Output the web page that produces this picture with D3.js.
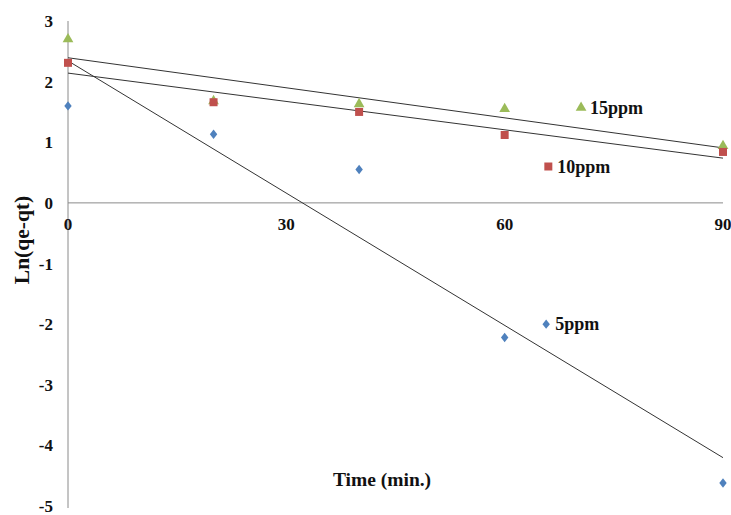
<!DOCTYPE html>
<html><head><meta charset="utf-8">
<script src="https://cdn.jsdelivr.net/npm/d3@7"></script>
<style>body{margin:0;background:#fff}svg{display:block}</style>
</head><body><svg id="c" width="731" height="515"></svg>
<script>
const times = [0, 20, 40, 60, 90];
const ppm5  = [1.6, 1.13, 0.55, -2.22, -4.62];
const ppm10 = [2.31, 1.66, 1.5, 1.12, 0.84];
const ppm15 = [2.7, 1.68, 1.63, 1.55, 0.94];
const seriesNames = ["5ppm", "10ppm", "15ppm"];
const seriesColors = ["#4F81BD", "#C0504D", "#9BBB59"];
const xTicks = [0, 30, 60, 90];
const yTicks = [3, 2, 1, 0, -1, -2, -3, -4, -5];
// legend anchor positions in data units (placed inside plot)
const legendX = [65.7, 66, 70.5];
const legendY = [-2.0, 0.6, 1.57];

const svg = d3.select("#c");
const font = "'Liberation Serif','Times New Roman',serif";
const x = d3.scaleLinear().domain([0, 90]).range([68, 723]);
const y = d3.scaleLinear().domain([-5, 3]).range([506, 21]);

// axes
svg.append("line").attr("x1", x(0)).attr("x2", x(0)).attr("y1", y(3)).attr("y2", y(-5) + 2)
  .attr("stroke", "#8a8a8a").attr("stroke-width", 1);
svg.append("line").attr("x1", x(0)).attr("x2", x(90)).attr("y1", y(0)).attr("y2", y(0))
  .attr("stroke", "#8a8a8a").attr("stroke-width", 1);

svg.selectAll(".yt").data(yTicks).enter().append("text")
  .attr("x", 53).attr("y", d => y(d) + 6).attr("text-anchor", "end")
  .attr("font-family", font).attr("font-weight", "bold").attr("font-size", 17)
  .attr("fill", "#111").text(d => d);
svg.selectAll(".xt").data(xTicks).enter().append("text")
  .attr("x", d => x(d)).attr("y", y(0) + 27).attr("text-anchor", "middle")
  .attr("font-family", font).attr("font-weight", "bold").attr("font-size", 17)
  .attr("fill", "#111").text(d => d);

svg.append("text").attr("transform", `translate(29,${240}) rotate(-90)`)
  .attr("text-anchor", "middle").attr("font-family", font).attr("font-weight", "bold")
  .attr("font-size", 21.5).attr("fill", "#111").text("Ln(qe-qt)");
svg.append("text").attr("x", 382).attr("y", 486).attr("text-anchor", "middle")
  .attr("font-family", font).attr("font-weight", "bold").attr("font-size", 19.5)
  .attr("fill", "#111").text("Time (min.)");

const data = [ppm5, ppm10, ppm15];

// linear trend lines (least squares)
function fit(xs, ys) {
  const mx = d3.mean(xs), my = d3.mean(ys);
  let sxy = 0, sxx = 0;
  xs.forEach((v, i) => { sxy += (v - mx) * (ys[i] - my); sxx += (v - mx) ** 2; });
  const b = sxy / sxx; return { a: my - b * mx, b };
}
data.forEach(vals => {
  const f = fit(times, vals);
  svg.append("line").attr("x1", x(0)).attr("y1", y(f.a)).attr("x2", x(90)).attr("y2", y(f.a + f.b * 90))
    .attr("stroke", "#333").attr("stroke-width", 1);
});

const symbols = [d3.symbolDiamond, d3.symbolSquare, d3.symbolTriangle];
const sizes = [36, 64, 50];
function marker(i, cx, cy) {
  const sym = d3.symbol().type(symbols[i]).size(sizes[i]);
  let t = `translate(${cx},${cy})`;
  if (i === 0) t += " scale(1.15,0.85)";
  svg.append("path").attr("d", sym()).attr("transform", t).attr("fill", seriesColors[i]);
}
// draw 15ppm then 5ppm then 10ppm so red is on top like reference
[2, 0, 1].forEach(i => {
  data[i].forEach((v, j) => marker(i, x(times[j]), y(v)));
});

// legends
seriesNames.forEach((n, i) => {
  const cx = x(legendX[i]), cy = y(legendY[i]);
  marker(i, cx, cy);
  svg.append("text").attr("x", cx + 9).attr("y", cy + 6)
    .attr("font-family", font).attr("font-weight", "bold").attr("font-size", 18)
    .attr("fill", "#111").text(n);
});
</script></body></html>
